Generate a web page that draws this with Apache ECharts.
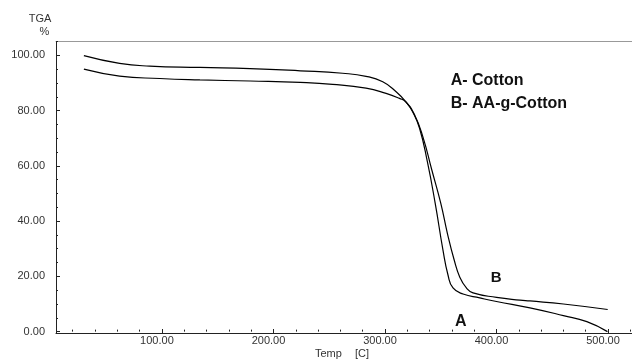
<!DOCTYPE html>
<html>
<head>
<meta charset="utf-8">
<script src="https://cdn.jsdelivr.net/npm/echarts@6/dist/echarts.min.js"></script>
<style>html,body{margin:0;padding:0;background:#fff}#c{width:632px;height:360px}</style>
</head>
<body>
<div id="c"></div>
<script>
// Curve A: Cotton
const tempA = [30, 62, 89, 134, 179, 224, 262, 283, 298, 310, 318.6, 325, 331, 338, 345, 352, 356.5, 361, 370, 385, 400, 430, 460, 481, 499.5];
const tgaA  = [99.9, 97.1, 96.1, 95.6, 95.2, 94.4, 93.5, 92.4, 90.4, 86.8, 83.2, 79.4, 73.6, 61.5, 46.5, 29.5, 20.5, 15.8, 13.6, 12.2, 10.9, 8.6, 5.8, 3.6, 0.0];
// Curve B: AA-g-Cotton
const tempB = [30, 62, 98, 134, 179, 224, 253, 283, 301, 313, 318.6, 326.6, 334, 342, 350, 356, 362, 367, 373, 379, 400, 421, 430, 460, 499.7];
const tgaB  = [95.0, 92.5, 91.6, 91.1, 90.7, 90.2, 89.5, 88.1, 86.2, 84.4, 83.2, 78.4, 70.5, 58.5, 46.5, 35.5, 26.0, 19.8, 15.8, 14.0, 12.4, 11.4, 11.1, 10.0, 8.0];

const xMajor = [100, 200, 300, 400, 500];
const xMinor = [20, 40, 60, 80, 120, 140, 160, 180, 220, 240, 260, 280, 320, 340, 360, 380, 420, 440, 460, 480, 520];
const yMajor = [0, 20, 40, 60, 80, 100];
const yMinor = [5, 10, 15, 25, 30, 35, 45, 50, 55, 65, 70, 75, 85, 90, 95, 105];

const X_MIN = 5, X_MAX = 521.5, Y_MIN = -0.5, Y_MAX = 105;
const FONT = '"Liberation Sans", Arial, sans-serif';

const chart = echarts.init(document.getElementById('c'), null, {renderer: 'canvas'});

const lineStyleAxis = {color: '#222', width: 1};
function xAxisBase(extra) {
  return Object.assign({
    type: 'value', min: X_MIN, max: X_MAX, position: 'bottom',
    splitLine: {show: false}, axisLine: {show: false}, axisTick: {show: false}, axisLabel: {show: false}
  }, extra);
}
function yAxisBase(extra) {
  return Object.assign({
    type: 'value', min: Y_MIN, max: Y_MAX, position: 'left',
    splitLine: {show: false}, axisLine: {show: false}, axisTick: {show: false}, axisLabel: {show: false}
  }, extra);
}

chart.setOption({
  animation: false,
  backgroundColor: '#fff',
  grid: {left: 56, right: 0, top: 41.5, bottom: 27, containLabel: false},
  xAxis: [
    xAxisBase({
      axisLine: {show: true, onZero: false, lineStyle: lineStyleAxis},
      axisTick: {show: true, inside: true, length: 4, customValues: xMajor, lineStyle: lineStyleAxis},
      axisLabel: {show: true, customValues: xMajor, margin: 2, padding: [0, 10, 0, 0],
        color: '#333', fontFamily: FONT, fontSize: 11, formatter: v => v.toFixed(2)}
    }),
    xAxisBase({
      axisTick: {show: true, inside: true, length: 2, customValues: xMinor, lineStyle: lineStyleAxis}
    }),
    xAxisBase({
      position: 'top',
      axisLine: {show: true, onZero: false, lineStyle: {color: '#999', width: 1}}
    })
  ],
  yAxis: [
    yAxisBase({
      axisLine: {show: true, onZero: false, lineStyle: lineStyleAxis},
      axisTick: {show: true, inside: true, length: 4, customValues: yMajor, lineStyle: lineStyleAxis},
      axisLabel: {show: true, customValues: yMajor, margin: 11,
        color: '#333', fontFamily: FONT, fontSize: 11, formatter: v => v.toFixed(2)}
    }),
    yAxisBase({
      axisTick: {show: true, inside: true, length: 2, customValues: yMinor, lineStyle: lineStyleAxis}
    })
  ],
  series: [
    {
      name: 'A- Cotton', type: 'line', xAxisIndex: 0, yAxisIndex: 0,
      data: tempA.map((t, i) => [t, tgaA[i]]),
      showSymbol: false, smooth: 0.5,
      lineStyle: {color: '#000', width: 1.2}
    },
    {
      name: 'B- AA-g-Cotton', type: 'line', xAxisIndex: 0, yAxisIndex: 0,
      data: tempB.map((t, i) => [t, tgaB[i]]),
      showSymbol: false, smooth: 0.5,
      lineStyle: {color: '#000', width: 1.2}
    }
  ],
  graphic: [
    {type: 'text', x: 40, y: 19, style: {text: 'TGA', font: '11px ' + FONT, fill: '#333', align: 'center', verticalAlign: 'middle'}},
    {type: 'text', x: 44.5, y: 32, style: {text: '%', font: '11px ' + FONT, fill: '#333', align: 'center', verticalAlign: 'middle'}},
    {type: 'text', x: 315, y: 354, style: {text: 'Temp', font: '11px ' + FONT, fill: '#333', align: 'left', verticalAlign: 'middle'}},
    {type: 'text', x: 355, y: 354, style: {text: '[C]', font: '11px ' + FONT, fill: '#333', align: 'left', verticalAlign: 'middle'}},
    {type: 'text', x: 450.7, y: 81, style: {text: 'A- Cotton', font: 'bold 16px ' + FONT, fill: '#111', align: 'left', verticalAlign: 'middle'}},
    {type: 'text', x: 450.7, y: 103.5, style: {text: 'B- AA-g-Cotton', font: 'bold 16px ' + FONT, fill: '#111', align: 'left', verticalAlign: 'middle'}},
    {type: 'text', x: 455, y: 322, style: {text: 'A', font: 'bold 16px ' + FONT, fill: '#111', align: 'left', verticalAlign: 'middle'}},
    {type: 'text', x: 490.7, y: 278, style: {text: 'B', font: 'bold 15px ' + FONT, fill: '#111', align: 'left', verticalAlign: 'middle'}}
  ]
});
</script>
</body>
</html>
